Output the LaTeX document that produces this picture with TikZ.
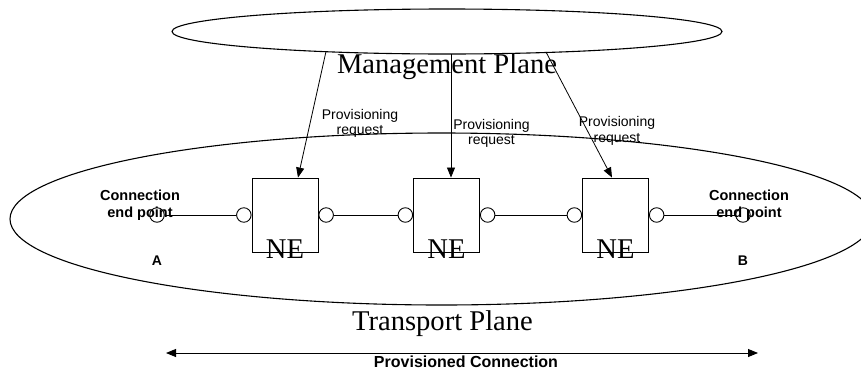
\documentclass[tikz,border=0pt]{standalone}
\usepackage{fontspec}
\setmainfont{Liberation Serif}
\newfontfamily\labelfont{Liberation Sans}
\usetikzlibrary{shapes.geometric,arrows.meta,calc}

\begin{document}
\begin{tikzpicture}[x=1pt,y=-1pt,
  plane/.style={draw, ellipse, inner sep=0pt, line width=1.1pt},
  nebox/.style={draw, rectangle, minimum width=66pt, minimum height=74pt, inner sep=0pt, line width=0.9pt},
  port/.style={draw, circle, minimum size=14.5pt, inner sep=0pt, fill=white, line width=0.9pt},
  link/.style={line width=0.9pt},
  req/.style={line width=0.8pt, -{Triangle[length=10pt,width=8pt]}},
  span/.style={line width=0.9pt, {Triangle[length=10pt,width=8pt]}-{Triangle[length=10pt,width=8pt]}},
  bigtext/.style={font=\fontsize{28.6}{32}\selectfont, inner sep=0pt},
  reqtext/.style={font=\labelfont\fontsize{14}{15.5}\selectfont, align=center, inner sep=0pt},
  eptext/.style={font=\labelfont\bfseries\fontsize{14.5}{17}\selectfont, align=center, inner sep=0pt},
  lettertext/.style={font=\labelfont\bfseries\fontsize{14}{16}\selectfont, inner sep=0pt},
]
\useasboundingbox (0,0) rectangle (861,370);
\clip (0,0) rectangle (861,370);

% the two planes
\node[plane, minimum width=550pt, minimum height=45pt] (mgmt) at (447,31.5) {};
\node[plane, minimum width=863pt, minimum height=172pt] (transport) at (441.5,219) {};
\node[bigtext, anchor=base] (mgmtlabel) at (447,73) {Management Plane};
\node[bigtext, anchor=base] (tplabel) at (442.5,330) {Transport Plane};

% network elements with their ports
\node[nebox] (ne1) at (285,215) {};
\node[nebox] (ne2) at (446.5,215) {};
\node[nebox] (ne3) at (615.5,215) {};
\foreach \n in {1,2,3} {
  \node[port, anchor=east] (in\n) at (ne\n.west) {};
  \node[port, anchor=west] (out\n) at (ne\n.east) {};
  \node[bigtext, anchor=base] (nelabel\n) at ($(ne\n.south)+(0,6)$) {NE};
}

% connection end points
\node[port] (epa) at (157,215) {};
\node[port] (epb) at (743,215) {};
\draw[link] (epa) -- (in1);
\draw[link] (out1) -- (in2);
\draw[link] (out2) -- (in3);
\draw[link] (out3) -- (epb);
\node[eptext] (epalabel) at (140,205.4) {Connection\\end point};
\node[eptext] (epblabel) at (749,205.4) {Connection\\end point};
\node[lettertext] (alabel) at (157,261) {A};
\node[lettertext] (blabel) at (743,261) {B};

% provisioning requests from the management plane
\coordinate (req1) at (326,51.5);
\coordinate (req2) at (451,54);
\coordinate (req3) at (546,52);
\draw[req] (req1) -- ($(ne1.north)+(13,0)$);
\draw[req] (req2) -- (req2 |- ne2.north);
\draw[req] (req3) -- ($(ne3.north)+(-3.5,0)$);
\node[reqtext] (req1text) at (360,123.4) {Provisioning\\request};
\node[reqtext] (req2text) at (491.5,133.4) {Provisioning\\request};
\node[reqtext] (req3text) at (617,130.8) {Provisioning\\request};

% provisioned connection
\coordinate (conA) at (166,353);
\coordinate (conB) at (758,353);
\draw[span] (conA) -- (conB);
\node[font=\labelfont\bfseries\fontsize{16}{18}\selectfont, inner sep=0pt, anchor=base] (conlabel) at (466,367.5) {Provisioned Connection};
\end{tikzpicture}
\end{document}
